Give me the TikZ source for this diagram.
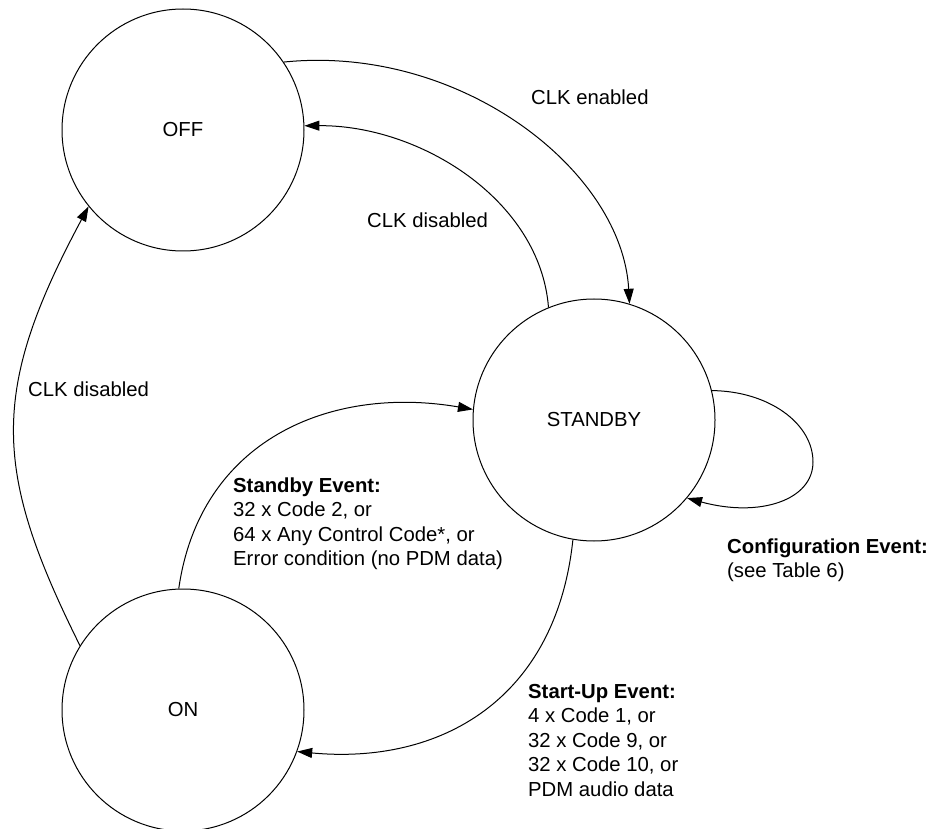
\documentclass[tikz,border=0pt]{standalone}
\usepackage{fontspec}
\setmainfont{Liberation Sans}
\usetikzlibrary{arrows.meta}
\begin{document}
\begin{tikzpicture}[x=1pt,y=-1pt,
  every node/.style={font=\fontsize{20.3}{24.6}\selectfont},
  state/.style={circle,draw,line width=1pt,minimum size=242pt,inner sep=0pt},
  trans/.style={line width=1pt,-{Triangle[length=15pt,width=10pt]}},
  lbl/.style={anchor=base west,inner sep=0pt}]
\path[use as bounding box,fill=white] (0,0) rectangle (935,829);
% states
\node[state] (off) at (183,130) {OFF};
\node[state] (standby) at (594,420) {STANDBY};
\node[state] (on) at (183,710) {ON};
% transitions
\draw[trans] (off.34) .. controls (460,44) and (622,170) .. (standby.73);
\draw[trans] (standby.112) .. controls (540,200) and (420,125) .. (off.2);
\draw[trans] (on.148) .. controls (-7,471) and (-11,392) .. (off.219);
\draw[trans] (on.92) .. controls (200,440) and (330,385) .. (standby.175);
\draw[trans] (standby.-100) .. controls (556,700) and (440,765) .. (on.-20);
\draw[trans] (standby.14) .. controls (768,391) and (813,423) .. (813,462)
  .. controls (813,500) and (760,518) .. (standby.-40);
% labels
\node[lbl] (lenab) at (531,105) {CLK enabled};
\node[lbl] (ldisa) at (367,228) {CLK disabled};
\node[lbl] (ldisb) at (28,396) {CLK disabled};
\node[lbl] (lstby) at (233,492) {\vtop{\hbox{\textbf{Standby Event:}}\hbox{32 x Code 2, or}\hbox{64 x Any Control Code*, or}\hbox{Error condition (no PDM data)}}};
\node[lbl] (lconf) at (727,553) {\vtop{\hbox{\textbf{Configuration Event:}}\hbox{(see Table 6)}}};
\node[lbl] (lstart) at (528,698) {\vtop{\hbox{\textbf{Start-Up Event:}}\hbox{4 x Code 1, or}\hbox{32 x Code 9, or}\hbox{32 x Code 10, or}\hbox{PDM audio data}}};
\end{tikzpicture}
\end{document}
